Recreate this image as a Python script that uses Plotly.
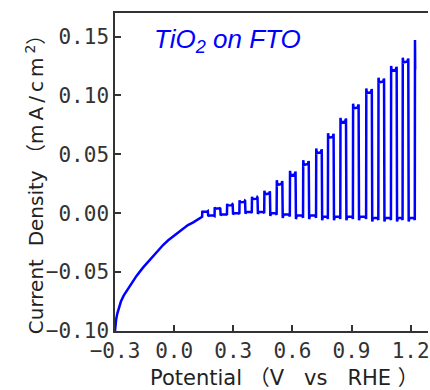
import plotly.graph_objects as go

# Continuous dark-scan portion before chopping (V vs RHE, mA/cm^2)
scan_v = [-0.300, -0.298, -0.294, -0.288, -0.280, -0.270, -0.256, -0.241, -0.225, -0.208,
          -0.190, -0.157, -0.130, -0.107, -0.080, -0.056, -0.030, -0.006, 0.020,
          0.044, 0.070, 0.095, 0.120, 0.140]
scan_j = [-0.100, -0.095, -0.090, -0.085, -0.080, -0.075, -0.070, -0.066, -0.062, -0.057,
          -0.053, -0.046, -0.041, -0.036, -0.031, -0.027, -0.023, -0.020, -0.016,
          -0.013, -0.010, -0.008, -0.005, -0.003]

# Chopped-light pulses: light-on potential, light-off potential, photocurrent top, dark level after
on_v = [0.142, 0.205, 0.268, 0.331, 0.394, 0.457, 0.520, 0.587, 0.654, 0.720,
        0.780, 0.843, 0.907, 0.974, 1.036, 1.100, 1.159, 1.221]
off_v = [0.171, 0.234, 0.297, 0.360, 0.423, 0.486, 0.549, 0.616, 0.683, 0.749,
         0.809, 0.872, 0.936, 1.003, 1.065, 1.129, 1.188, 1.223]
top_j = [0.002, 0.005, 0.008, 0.011, 0.014, 0.019, 0.028, 0.036, 0.045, 0.055,
         0.068, 0.081, 0.093, 0.106, 0.115, 0.125, 0.132, 0.147]
dark_j = [-0.002, -0.001, 0.000, 0.001, 0.001, 0.000, -0.001, -0.002, -0.002, -0.003,
          -0.003, -0.003, -0.003, -0.004, -0.004, -0.004, -0.004, 0.122]

x_ticks = [-0.3, 0.0, 0.3, 0.6, 0.9, 1.2]
y_ticks = [-0.10, -0.05, 0.00, 0.05, 0.10, 0.15]

xs = list(scan_v)
ys = list(scan_j)
prev_dark = scan_j[-1]
n = len(on_v)
for i in range(n):
    v0, v1, top, dk = on_v[i], off_v[i], top_j[i], dark_j[i]
    amp = top - prev_dark
    d = min(0.004, 0.15 * amp)
    u = min(0.003, 0.12 * amp)
    xs += [v0, v0 + 0.001]
    ys += [prev_dark, top]
    if i == n - 1:
        xs += [v1]
        ys += [dk]
        break
    xs += [v0 + 0.004, v1 - 0.004, v1 - 0.001, v1, v1 + 0.002, v1 + 0.006]
    ys += [top - d, top - 0.8 * d, top - 0.2 * d, top - 0.3 * d, dk - u, dk]
    nxt = on_v[i + 1]
    xs += [nxt - 0.004, nxt - 0.001]
    ys += [dk, dk - 0.6 * u]
    prev_dark = dk - 0.6 * u

fig = go.Figure()
fig.add_trace(go.Scatter(x=xs, y=ys, mode="lines",
                         line=dict(color="#0000ff", width=2.5), showlegend=False))

axis_col = "#333333"
tick_font = dict(family="DejaVu Sans Mono", size=21, color="#333333")
fig.update_xaxes(range=[-0.3, 1.288], tickvals=x_ticks, tickformat=".1f",
                 ticks="inside", ticklen=6, tickwidth=1.5, tickcolor=axis_col,
                 showline=True, linewidth=1.5, linecolor=axis_col, mirror=True,
                 showgrid=False, zeroline=False, tickfont=tick_font,
                 ticklabeloverflow="allow")
fig.update_yaxes(range=[-0.10, 0.170], tickvals=y_ticks, tickformat=".2f",
                 ticks="inside", ticklen=6, tickwidth=1.5, tickcolor=axis_col,
                 showline=True, linewidth=1.5, linecolor=axis_col, mirror=False,
                 showgrid=False, zeroline=False, tickfont=tick_font,
                 ticklabeloverflow="allow")

title_font = dict(family="DejaVu Sans, Noto Sans CJK SC", size=21, color="#222222")
fig.add_annotation(text="Potential （V   vs   RHE ）", xref="paper", yref="paper",
                   x=0.54, y=-0.148, xanchor="center", yanchor="middle",
                   showarrow=False, font=title_font)
fig.add_annotation(text="Current  Density （<span style='letter-spacing:4px'>mA/cm</span><sup>2</sup>）",
                   xref="paper", yref="paper",
                   x=-0.257, y=0.476, xanchor="center", yanchor="middle", textangle=-90,
                   showarrow=False, font=dict(family="DejaVu Sans, Noto Sans CJK SC", size=20,
                                              color="#222222"))
fig.add_annotation(text="TiO<sub>2</sub> on FTO", xref="paper", yref="paper",
                   x=0.117, y=0.912, xanchor="left", yanchor="middle", showarrow=False,
                   font=dict(family="Liberation Sans", size=26, color="#0000ff", style="italic"))

fig.update_layout(width=430, height=390, margin=dict(l=115, r=0, t=13, b=59),
                  plot_bgcolor="white", paper_bgcolor="white")
fig.write_html("out.html")
